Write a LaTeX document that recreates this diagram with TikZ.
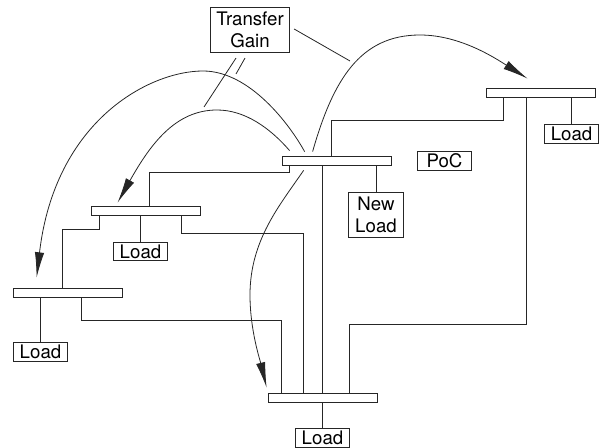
\documentclass[tikz,border=0pt]{standalone}
\usepackage{fontspec}
\setmainfont{TeX Gyre Heros}
\usetikzlibrary{arrows.meta,calc}

\tikzset{
  bus/.style={draw, rectangle, minimum width=81.75pt, minimum height=6.75pt, inner sep=0pt},
  loadbox/.style={draw, rectangle, minimum width=41pt, minimum height=14pt, inner sep=0pt},
  twobox/.style={draw, rectangle, align=center, minimum height=34pt, inner xsep=4.5pt, inner ysep=0pt},
  gainarrow/.style={-{Latex[length=19pt,width=7pt]}},
}

\begin{document}
\begin{tikzpicture}[x=0.75pt,y=-0.75pt, line width=0.6pt, draw=black!85, every node/.style={font=\fontsize{14}{16}\selectfont}]
    \useasboundingbox (0,0) rectangle (599,448);
    \node[bus] (bA) at (336.5,161) {};
    \node[bus] (bB) at (540.5,92.5) {};
    \node[bus] (bC) at (145.5,210.5) {};
    \node[bus] (bD) at (67.5,292.5) {};
    \node[bus] (bE) at (322.5,397.5) {};
    \node[loadbox] (lB) at (571.5,134) {Load};
    \node[loadbox] (lC) at (140.5,251.5) {Load};
    \node[loadbox] (lD) at (40.5,352) {Load};
    \node[loadbox] (lE) at (322.5,438) {Load};
    \node[loadbox] (poc) at (444.5,161) {PoC};
    \node[twobox, minimum width=41pt] (new) at (376,215) {New\\Load};
    \node[twobox] (tg) at (250,30) {Transfer\\Gain};
    \coordinate (g1) at (236,74);
    \coordinate (g2) at (204,107);
    \coordinate (g3) at (350,61);
    % lines between buses
    \draw ($(bA.north west)+(50,0)$) |- ($(bB.south west)+(18,23)$) -- ($(bB.south west)+(18,0)$);
    \draw ($(bB.south west)+(41,0)$) -- ++(0,227) -| ($(bE.north west)+(82,0)$);
    \draw ($(bC.north west)+(59,0)$) -- ++(0,-33) -| ($(bA.south west)+(8,0)$);
    \draw ($(bC.south west)+(9,0)$) -- ++(0,14) -| ($(bD.north west)+(50,0)$);
    \draw ($(bC.south west)+(91,0)$) -- ++(0,18) -| ($(bE.north west)+(36,0)$);
    \draw ($(bD.south west)+(69,0)$) -- ++(0,23) -| ($(bE.north west)+(14,0)$);
    \draw (bA.south -| bE.north) -- (bE.north);
    % loads
    \draw (bB.south -| lB.north) -- (lB.north);
    \draw (bC.south -| lC.north) -- (lC.north);
    \draw (bD.south -| lD.north) -- (lD.north);
    \draw (bE.south) -- (lE.north);
    \draw (bA.south -| new.north) -- (new.north);
    % transfer gain curves
    \draw[gainarrow] ($(bA.north west)+(23,-4.5)$) .. controls (290,125) and (250,71) .. (203,71) .. controls (150,71) and (55,120) .. ($(bD.north west)+(24,-10)$);
    \draw[gainarrow] ($(bA.north west)+(8,-5.5)$) .. controls (270,128) and (245,110) .. (217,110) .. controls (175,110) and (150,145) .. ($(bC.north west)+(27,-3)$);
    \draw[gainarrow] ($(bA.north west)+(31,-4.5)$) .. controls (333,80) and (360,35) .. (420,35) .. controls (460,35) and (495,58) .. ($(bB.north west)+(42,-9)$);
    \draw[gainarrow] ($(bA.south west)+(22,4.5)$) .. controls (280,205) and (250,240) .. (250,295) .. controls (250,330) and (260,360) .. ($(bE.north west)+(-1,-5)$);
    \draw ($(tg.south)+(-5,5)$) -- (g1);
    \draw ($(tg.south)+(-14,5)$) -- (g2);
    \draw ($(tg.east)+(4,-1)$) -- (g3);
\end{tikzpicture}
\end{document}
